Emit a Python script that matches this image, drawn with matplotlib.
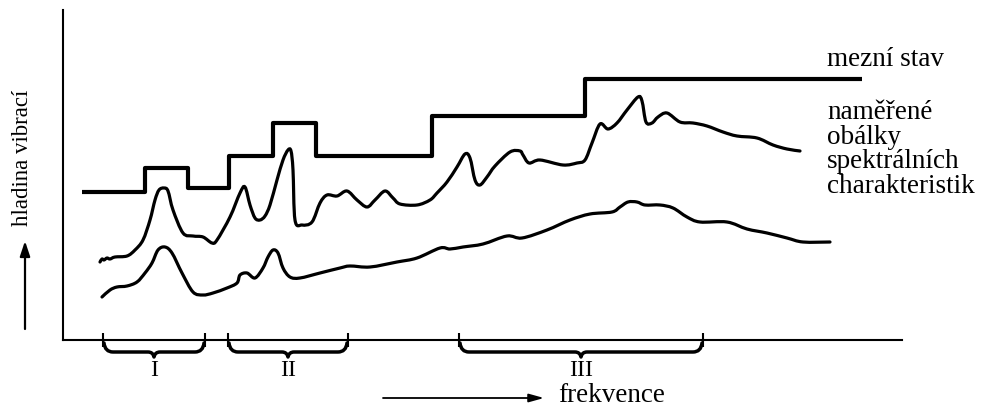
import matplotlib
matplotlib.use("Agg")
import matplotlib.pyplot as plt
from matplotlib.path import Path
from matplotlib.patches import PathPatch

# Limit state ("mezní stav"): step edges along the frequency axis and levels
limit_edges = [19, 82, 125, 166, 210, 253, 369, 522, 799]
limit_levels = [148, 172, 152, 184, 217, 184, 224, 261]

# Measured spectral envelope, upper trace
upper_x = [37, 39, 41, 44, 47, 52, 64, 72, 80, 87, 92, 96, 101, 105, 110, 120, 130, 140,
           149, 154, 167, 177, 182, 187, 192, 197, 202, 207, 214, 220, 225, 228, 230, 232,
           239, 249, 257, 264, 274, 284, 294, 304, 312, 322, 330, 337, 354, 367, 374, 384,
           394, 402, 407, 412, 417, 424, 432, 447, 457, 460, 466, 477, 500, 514, 522, 529,
           537, 545, 554, 564, 575, 579, 583, 589, 595, 604, 617, 630, 644, 660, 674, 694,
           710, 724, 737]
upper_y = [78, 81, 80, 82, 81, 83, 84, 90, 100, 120, 140, 150, 152, 149, 130, 107, 104, 103,
           97, 100, 123, 147, 153, 135, 122, 120, 124, 135, 160, 180, 190, 189, 170, 120,
           115, 118, 137, 145, 144, 149, 140, 133, 140, 149, 142, 136, 135, 140, 147, 158,
           173, 186, 182, 160, 155, 163, 174, 188, 189, 185, 177, 180, 175, 177, 180, 197,
           216, 211, 217, 230, 243, 239, 218, 217, 223, 227, 218, 217, 214, 208, 204, 202,
           195, 191, 189]

# Measured spectral envelope, lower trace
lower_x = [39, 47, 54, 64, 74, 82, 89, 95, 102, 109, 119, 130, 140, 150, 164, 174, 177, 184,
           192, 200, 205, 210, 215, 220, 227, 237, 257, 277, 287, 307, 334, 354, 377, 387,
           400, 420, 444, 459, 484, 507, 527, 549, 557, 565, 574, 582, 597, 610, 624, 637,
           664, 684, 704, 724, 740, 767]
lower_y = [43, 50, 53, 54, 58, 67, 77, 90, 93, 87, 67, 48, 45, 47, 52, 57, 65, 67,
           62, 72, 83, 90, 87, 72, 63, 62, 67, 72, 74, 73, 78, 82, 92, 91,
           93, 96, 104, 102, 110, 120, 126, 128, 133, 138, 138, 135, 135, 132, 123, 118,
           118, 111, 107, 102, 98, 98]

# Frequency bands marked under the axis
band_edges = [(40, 142), (165, 285), (396, 640)]
band_names = ["I", "II", "III"]

label_limit = "mezní stav"
label_envelopes = "naměřené\nobálky\nspektrálních\ncharakteristik"
label_x = "frekvence"
label_y = "hladina vibrací"

SERIF = ["Liberation Serif", "DejaVu Serif"]
TEXT_SIZE = 19.5


def smooth_path(xs, ys):
    """Cubic Bezier path passing through every point (Catmull-Rom tangents)."""
    pts = list(zip(xs, ys))
    verts = [pts[0]]
    codes = [Path.MOVETO]
    n = len(pts)
    for i in range(n - 1):
        p0 = pts[i - 1] if i > 0 else pts[i]
        p1 = pts[i]
        p2 = pts[i + 1]
        p3 = pts[i + 2] if i + 2 < n else pts[i + 1]
        c1 = (p1[0] + (p2[0] - p0[0]) / 6.0, p1[1] + (p2[1] - p0[1]) / 6.0)
        c2 = (p2[0] - (p3[0] - p1[0]) / 6.0, p2[1] - (p3[1] - p1[1]) / 6.0)
        verts += [c1, c2, p2]
        codes += [Path.CURVE4] * 3
    return Path(verts, codes)


def brace_path(x0, x1, top=-3.0, low=-12.0, tip=-17.0):
    m = 0.5 * (x0 + x1)
    verts = [
        (x0 + 1, top),
        (x0 + 2, low), (x0 + 10, low),
        (m - 6, low),
        (m - 1, low), (m, tip),
        (m + 1, low), (m + 6, low),
        (x1 - 10, low),
        (x1 - 2, low), (x1 - 1, top),
    ]
    codes = [Path.MOVETO,
             Path.CURVE3, Path.CURVE3,
             Path.LINETO,
             Path.CURVE3, Path.CURVE3,
             Path.CURVE3, Path.CURVE3,
             Path.LINETO,
             Path.CURVE3, Path.CURVE3]
    return Path(verts, codes)


fig = plt.figure(figsize=(9.96, 4.07), dpi=100)
fig.patch.set_facecolor("white")
ax = fig.add_axes([63 / 996, 67 / 407, 839 / 996, 330 / 407])
ax.set_xlim(0, 839)
ax.set_ylim(0, 330)
ax.set_facecolor("white")

for side in ("top", "right"):
    ax.spines[side].set_visible(False)
for side in ("left", "bottom"):
    ax.spines[side].set_linewidth(1.5)
    ax.spines[side].set_color("black")

ticks = sorted({e for pair in band_edges for e in pair})
ax.set_xticks(ticks)
ax.tick_params(axis="x", direction="inout", length=9.5, width=1.5, color="black",
               labelbottom=False)
ax.set_yticks([])

# Limit state step line
ax.stairs(limit_levels, limit_edges, baseline=None, color="black", linewidth=3.0,
          joinstyle="round")

# Envelope traces
for xs, ys in ((upper_x, upper_y), (lower_x, lower_y)):
    ax.add_patch(PathPatch(smooth_path(xs, ys), facecolor="none", edgecolor="black",
                           linewidth=2.3, capstyle="round", joinstyle="round"))

for (x0, x1), name in zip(band_edges, band_names):
    ax.add_patch(PathPatch(brace_path(x0, x1), facecolor="none", edgecolor="black",
                           linewidth=2.5, capstyle="round", joinstyle="round",
                           clip_on=False))
    ax.text(0.5 * (x0 + x1), -31, name, ha="center", va="center", fontsize=17,
            family=SERIF, clip_on=False)

# Axis direction arrows and titles
ax.annotate("", xy=(-38, 99), xytext=(-38, 11), annotation_clip=False,
            arrowprops=dict(arrowstyle="-|>,head_length=0.9,head_width=0.3",
                            color="black", lw=1.6, shrinkA=0, shrinkB=0))
ax.text(-40, 182, label_y, rotation=90, ha="center", va="center", fontsize=16.5,
        family=SERIF, clip_on=False)

ax.annotate("", xy=(481, -58), xytext=(320, -58), annotation_clip=False,
            arrowprops=dict(arrowstyle="-|>,head_length=0.9,head_width=0.25",
                            color="black", lw=1.3, shrinkA=0, shrinkB=0))
ax.text(495, -61.5, label_x, ha="left", va="baseline", fontsize=TEXT_SIZE, family=SERIF,
        clip_on=False)

ax.text(764, 274, label_limit, ha="left", va="baseline", fontsize=TEXT_SIZE,
        family=SERIF, clip_on=False)
ax.text(764, 147, label_envelopes, ha="left", va="baseline", fontsize=TEXT_SIZE,
        family=SERIF, linespacing=0.98, clip_on=False)

fig.savefig("out.png", dpi=100, facecolor="white")
